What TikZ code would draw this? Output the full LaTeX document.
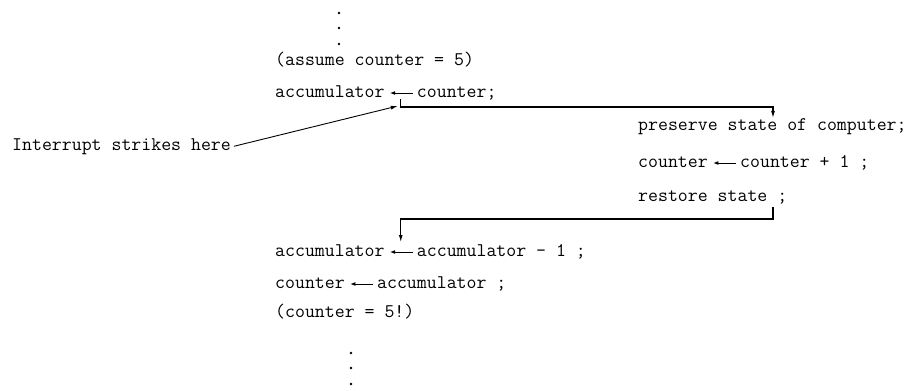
\documentclass[tikz,border=0pt]{standalone}
\usepackage{tikz}
\usetikzlibrary{positioning, arrows.meta, calc}

\newcommand{\codefont}{\fontsize{19.3}{22}\selectfont\ttfamily}

\begin{document}
\begin{tikzpicture}[x=1pt, y=-1pt,
    code/.style={anchor=base west, inner sep=0pt, font=\codefont},
    assign/.style={-{Latex[length=5.5pt,width=4pt]}, line width=1pt, shorten <=4pt, shorten >=5pt},
    flow/.style={-{Latex[length=7pt,width=4pt]}, line width=1.1pt}]
    \useasboundingbox (0,0) rectangle (922,391);

    % Dots before and after
    \foreach \y in {13, 28, 44} {
        \fill (339,\y) circle (1.4pt);
    }
    \foreach \y in {353, 368, 384} {
        \fill (351,\y) circle (1.4pt);
    }

    % Main program
    \node[code] (assume) at (275,65) {(assume counter = 5)};
    \node[code] (acc1) at (275,97) {accumulator};
    \node[code, base right=32pt of acc1] (cnt1) {counter;};
    \draw[assign] ([yshift=4pt]cnt1.base west) -- ([yshift=4pt]acc1.base east);

    % Interrupt routine
    \node[code] (ps) at (638,130) {preserve state of computer;};
    \node[code] (cnt2) at (638,167) {counter};
    \node[code, base right=32pt of cnt2] (cnt3) {counter + 1 ;};
    \draw[assign] ([yshift=4pt]cnt3.base west) -- ([yshift=4pt]cnt2.base east);
    \node[code] (rs) at (638,201) {restore state ;};

    % Main program resumes
    \node[code] (acc2) at (275,256) {accumulator};
    \node[code, base right=32pt of acc2] (acc3) {accumulator - 1 ;};
    \draw[assign] ([yshift=4pt]acc3.base west) -- ([yshift=4pt]acc2.base east);
    \node[code] (cnt4) at (275,288) {counter};
    \node[code, base right=32pt of cnt4] (acc4) {accumulator ;};
    \draw[assign] ([yshift=4pt]acc4.base west) -- ([yshift=4pt]cnt4.base east);
    \node[code] (result) at (275,317) {(counter = 5!)};

    % Jump out and back
    \coordinate (strike) at ($(acc1.base east)!0.5!(cnt1.base west)$);
    \coordinate (resume) at ($(acc2.base east)!0.5!(acc3.base west)$);
    \coordinate (corner) at ($(strike)+(-3,9)$);
    \draw[flow] (strike) ++(0,2) -- ++(0,8) -| ([xshift=135pt]ps.north west);
    \draw[flow] ([xshift=135pt]rs.base west) ++(0,6) -- ++(0,12) -| ($(resume)+(0,-14)$);

    % Label
    \node[code] (intr) at (12,150) {Interrupt strikes here};
    \draw[flow, line width=0.9pt, shorten <=3pt] ([yshift=3pt]intr.base east) -- (corner);
\end{tikzpicture}
\end{document}
